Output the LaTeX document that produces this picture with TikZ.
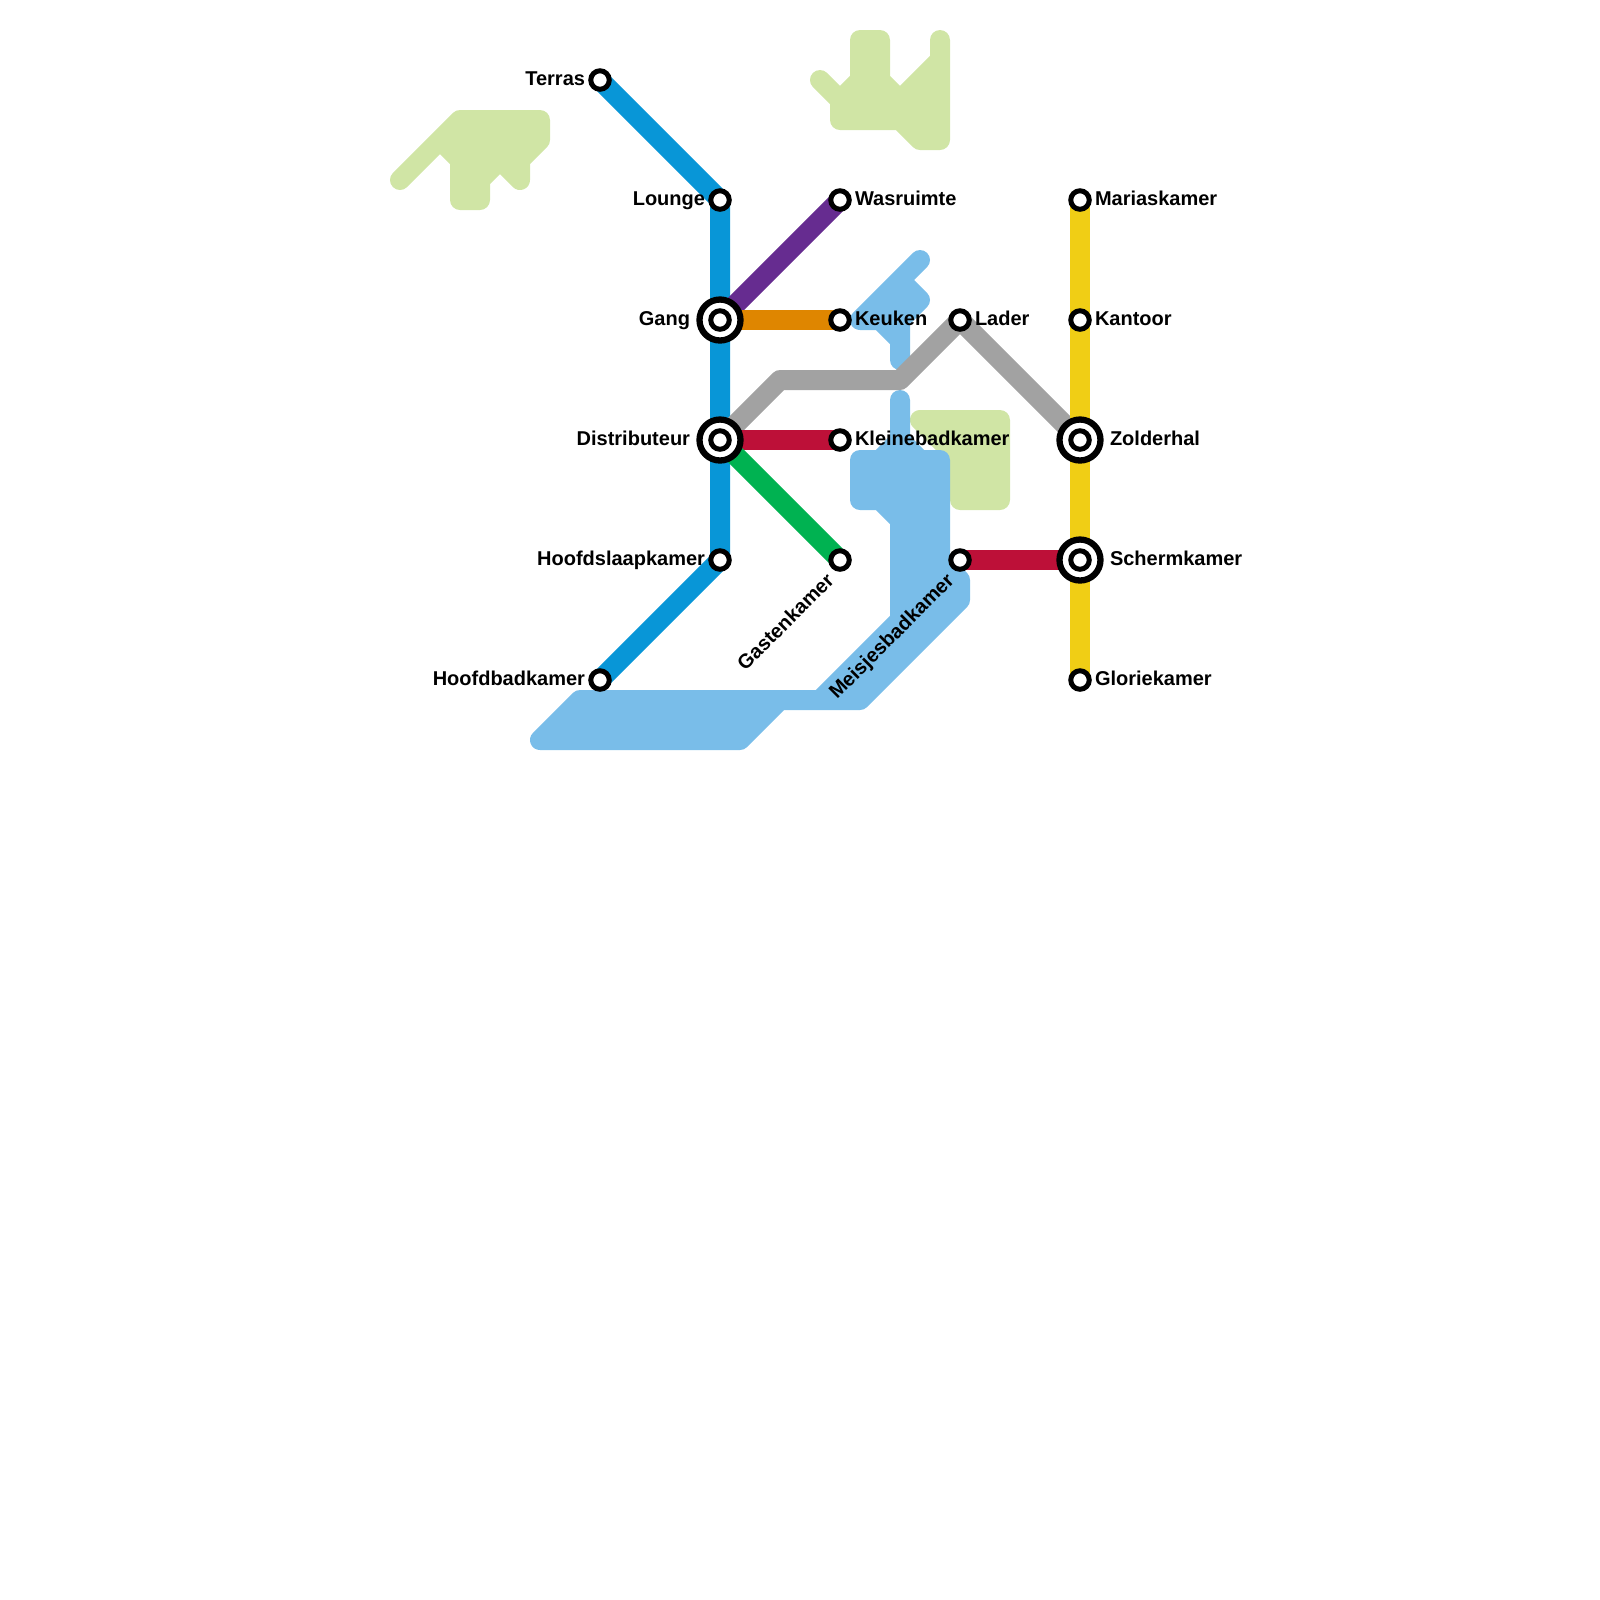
\documentclass[tikz,border=0pt]{standalone}
\usepackage{fontspec}
\setmainfont{Liberation Sans}
\usepackage{xcolor}
\usepackage{tikz}
\usetikzlibrary{backgrounds}
\definecolor{lnblue}{HTML}{0896D7}
\definecolor{lnpurple}{HTML}{662C90}
\definecolor{lnorange}{HTML}{DF8600}
\definecolor{lngray}{HTML}{A2A2A2}
\definecolor{lnred}{HTML}{BD1038}
\definecolor{lngreen}{HTML}{00B251}
\definecolor{lnyellow}{HTML}{F0CE15}
\definecolor{water}{HTML}{79BDE9}
\definecolor{park}{HTML}{D0E5A5}

\begin{document}
\begin{tikzpicture}[
  x=0.2cm,y=-0.2cm,
  font=\fontsize{5.69pt}{7pt}\selectfont\bfseries,
  stop/.style={circle,draw=black,fill=white,line width=0.05cm,minimum size=0.185cm,inner sep=0pt,outer sep=0pt},
  hub/.style={circle,draw=black,fill=white,line width=0.063cm,minimum size=0.41cm,inner sep=0pt,outer sep=0pt},
  rail/.style={line width=0.2cm,line join=round},
  area/.style={line width=0.2cm,line join=round,line cap=round},
  lbl/.style={inner sep=0pt,outer sep=0pt},
  lblleft/.style={lbl,anchor=base east,xshift=-0.15cm,yshift=-0.05cm},
  lblright/.style={lbl,anchor=base west,xshift=0.15cm,yshift=-0.05cm},
  hubleft/.style={lbl,anchor=base east,xshift=-0.30cm,yshift=-0.05cm},
  hubright/.style={lbl,anchor=base west,xshift=0.30cm,yshift=-0.05cm},
  lbldiag/.style={lbl,anchor=base east,rotate=45,xshift=-0.19cm,yshift=-0.12cm}
]
\useasboundingbox (0,0) rectangle (80,80);
% stations
\node[stop] (terras) at (30,4) {};
\node[stop] (lounge) at (36,10) {};
\node[hub] (ganghub) at (36,16) {};
\node[stop] (gang) at (ganghub) {};
\node[hub] (distrhub) at (36,22) {};
\node[stop] (distr) at (distrhub) {};
\node[stop] (hoofdslaap) at (36,28) {};
\node[stop] (hoofdbad) at (30,34) {};
\node[stop] (was) at (42,10) {};
\node[stop] (keuken) at (42,16) {};
\node[stop] (kleinebad) at (42,22) {};
\node[stop] (gasten) at (42,28) {};
\node[stop] (lader) at (48,16) {};
\node[stop] (meisjes) at (48,28) {};
\node[stop] (maria) at (54,10) {};
\node[stop] (kantoor) at (54,16) {};
\node[hub] (zolderhub) at (54,22) {};
\node[stop] (zolder) at (zolderhub) {};
\node[hub] (schermhub) at (54,28) {};
\node[stop] (scherm) at (schermhub) {};
\node[stop] (glorie) at (54,34) {};
\coordinate (bendA) at (39,19);
\coordinate (bendB) at (45,19);
% labels
\node[lblleft] (terraslbl) at (terras) {Terras};
\node[lblleft] (loungelbl) at (lounge) {Lounge};
\node[hubleft] (ganglbl) at (gang) {Gang};
\node[hubleft] (distrlbl) at (distr) {Distributeur};
\node[lblleft] (hoofdslaaplbl) at (hoofdslaap) {Hoofdslaapkamer};
\node[lblleft] (hoofdbadlbl) at (hoofdbad) {Hoofdbadkamer};
\node[lblright] (waslbl) at (was) {Wasruimte};
\node[lblright] (keukenlbl) at (keuken) {Keuken};
\node[lblright] (kleinebadlbl) at (kleinebad) {Kleinebadkamer};
\node[lbldiag] (gastenlbl) at (gasten) {Gastenkamer};
\node[lblright] (laderlbl) at (lader) {Lader};
\node[lbldiag] (meisjeslbl) at (meisjes) {Meisjesbadkamer};
\node[lblright] (marialbl) at (maria) {Mariaskamer};
\node[lblright] (kantoorlbl) at (kantoor) {Kantoor};
\node[hubright] (zolderlbl) at (zolder) {Zolderhal};
\node[hubright] (schermlbl) at (scherm) {Schermkamer};
\node[lblright] (glorielbl) at (glorie) {Gloriekamer};
\begin{pgfonlayer}{background}
% parks
\draw[area,draw=park,fill=park] (20,9)--(23,6)--(27,6)--(27,7)--(26,8)--(26,9)--(25,8)--(24,9)--(24,10)--(23,10)--(23,8)--(22,7)--cycle;
\draw[area,draw=park,fill=park] (42,5)--(41,4)--(42,5)--(43,4)--(43,2)--(44,2)--(44,4)--(45,5)--(47,3)--(47,2)--(47,7)--(46,7)--(45,6)--(42,6)--cycle;
\draw[area,draw=park,fill=park] (46,21)--(50,21)--(50,25)--(48,25)--(48,23)--cycle;
% water
\draw[area,draw=water,fill=water] (43,16)--(46,13)--(45,14)--(46,15)--(45,16)--(45,18)--(45,17)--(44,16)--cycle;
\draw[area,draw=water,fill=water] (43,23)--(44,23)--(45,22)--(45,20)--(45,22)--(46,23)--(47,23)--(47,28)--(48,29)--(48,30)--(43,35)--(39,35)--(37,37)--(27,37)--(29,35)--(41,35)--(45,31)--(45,26)--(44,25)--(43,25)--cycle;
% lines
\draw[rail,lnblue] (terras.center)--(lounge.center)--(gang.center)--(distr.center)--(hoofdslaap.center)--(hoofdbad.center);
\draw[rail,lnpurple] (gang.center)--(was.center);
\draw[rail,lnorange] (gang.center)--(keuken.center);
\draw[rail,lngray] (distr.center)--(bendA)--(bendB)--(lader.center)--(zolder.center);
\draw[rail,lnred] (distr.center)--(kleinebad.center);
\draw[rail,lnred] (meisjes.center)--(scherm.center);
\draw[rail,lngreen] (distr.center)--(gasten.center);
\draw[rail,lnyellow] (maria.center)--(kantoor.center)--(zolder.center)--(scherm.center)--(glorie.center);
\end{pgfonlayer}
\end{tikzpicture}
\end{document}
